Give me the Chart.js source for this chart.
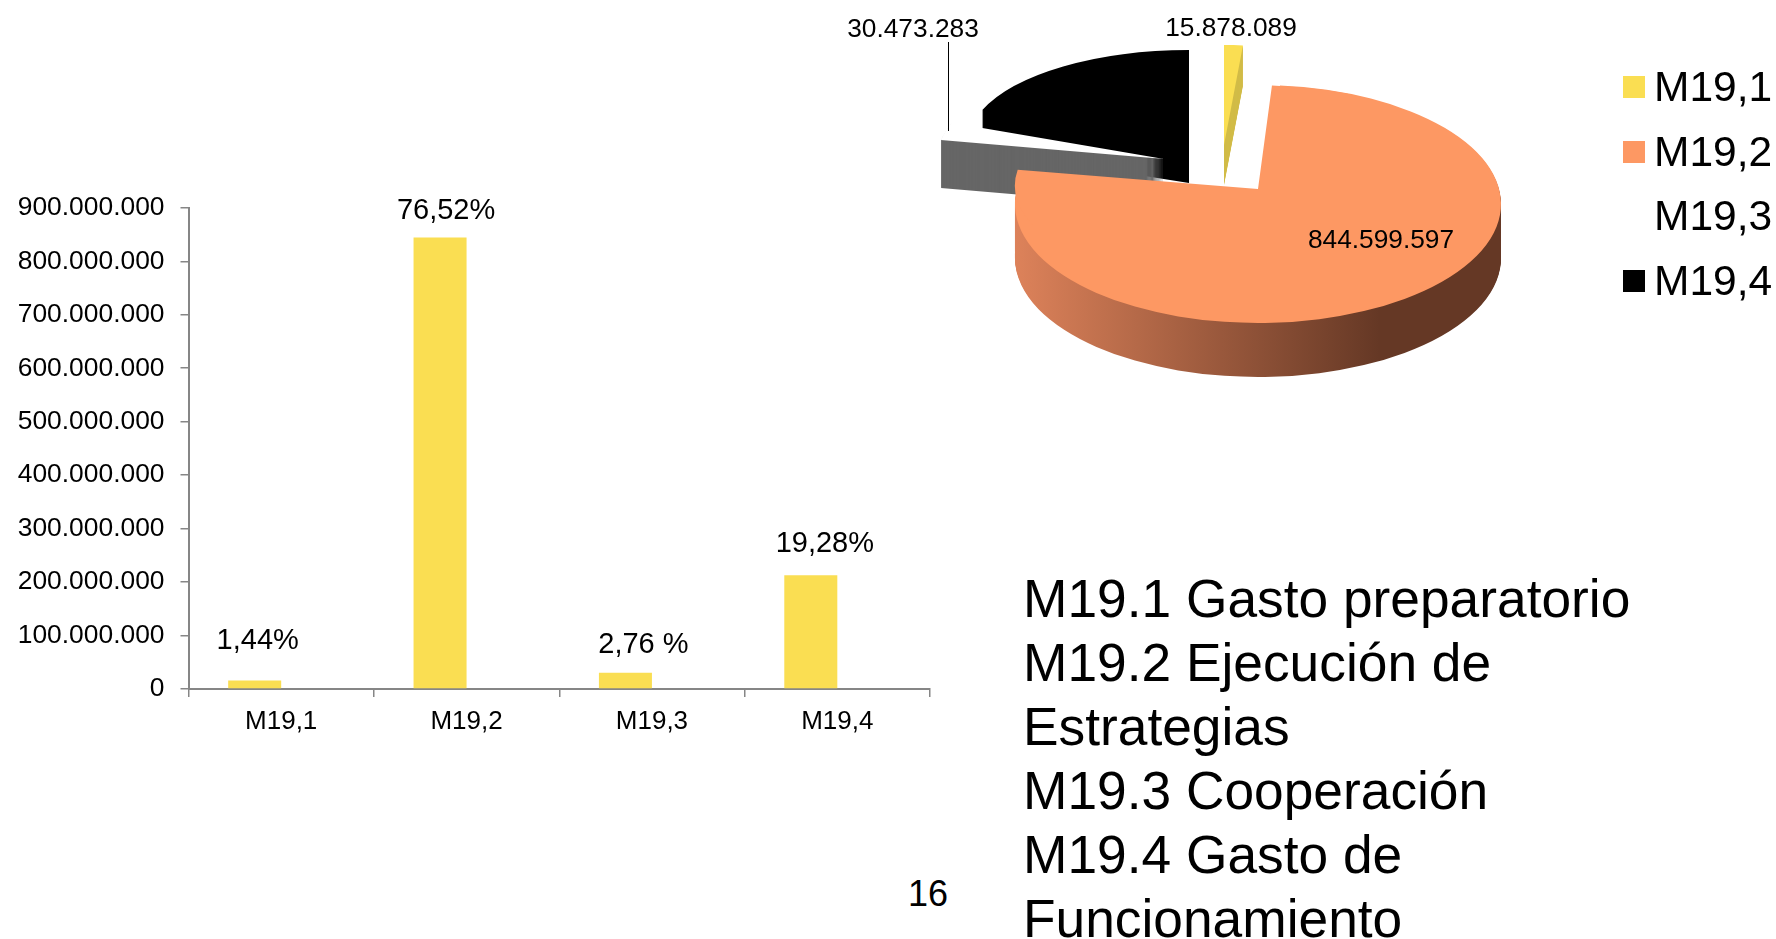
<!DOCTYPE html>
<html lang="es">
<head>
<meta charset="utf-8">
<title>M19</title>
<script src="https://cdn.jsdelivr.net/npm/chart.js@4"></script>
<style>
  html, body { margin: 0; background: #fff; overflow: hidden; }
  #stage { position: relative; width: 1776px; height: 939px; font-family: "Liberation Sans", Arial, sans-serif; color: #000; }
  #stage canvas { position: absolute; }
  #barChart { left: 0; top: 176px; }
  #pieChart { left: 780px; top: 0; }
  #legend { position: absolute; left: 1623px; top: 55px; }
  .legend-row { display: flex; align-items: center; height: 64.5px; font-size: 42.5px; white-space: nowrap; }
  .legend-box { width: 22px; height: 22px; margin-right: 9px; }
  #notes { position: absolute; left: 1023px; top: 567px; font-size: 53.3px; line-height: 64px; white-space: nowrap; }
  #pageNo { position: absolute; left: 908px; top: 873px; font-size: 36px; line-height: 42px; }
</style>
</head>
<body>
<div id="stage">
  <canvas id="barChart" width="960" height="574"></canvas>
  <canvas id="pieChart" width="996" height="420"></canvas>
  <div id="legend"></div>
  <div id="notes"></div>
  <div id="pageNo">16</div>
</div>
<script>
// ---------- DATA ----------
const categories = ["M19,1", "M19,2", "M19,3", "M19,4"];
const values = [15878089, 844599597, 30473283, 212800000];
const barLabels = ["1,44%", "76,52%", "2,76 %", "19,28%"];
const pieLabels = ["15.878.089", "844.599.597", "30.473.283", ""];
const yTickLabels = ["0", "100.000.000", "200.000.000", "300.000.000", "400.000.000", "500.000.000",
  "600.000.000", "700.000.000", "800.000.000", "900.000.000"];
const notes = ["M19.1 Gasto preparatorio", "M19.2 Ejecución de", "Estrategias", "M19.3 Cooperación",
  "M19.4 Gasto de", "Funcionamiento"];

// ---------- STYLE ----------
const YELLOW = "#FADE52";
const ORANGE = "#FD9863";
const sliceColors = [YELLOW, ORANGE, "#FFFFFF", "#000000"];
const AXIS_COLOR = "#868686";
const FONT = "'Liberation Sans', Arial, sans-serif";

// nudge of each percent label from the top centre of its bar
const barLabelNudge = [[3, -40], [6, -26], [18, -28], [14, -31]];

// fake 3D view of each slice (canvas px): apex, radii, extrusion
const sliceViews = [
  { cx: 444, cy: 145, rx: 210, ry: 100, depth: 40, side: "#D2BC48" },
  // orange outline is centred lower than its apex, the patch pulls the apex up
  { cx: 478, cy: 204, rx: 243, ry: 119, depth: 54, side: "gradient",
    patch: { cy: 189, ry: 104, skew: 0.077, maxX: 568, maxY: 225 } },
  { cx: 384, cy: 159, rx: 227, ry: 103, depth: 48, side: "#666666" },
  { cx: 409, cy: 143, rx: 221, ry: 93, depth: 40, side: "#000000" }
];
const pieLabelPos = [[451, 29], [601, 241], [133, 30]];

// ---------- HTML TEXT ----------
document.getElementById("legend").innerHTML = categories.map(function (c, i) {
  return '<div class="legend-row"><span class="legend-box" style="background:' + sliceColors[i] + '"></span>' + c + "</div>";
}).join("");
document.getElementById("notes").innerHTML = notes.join("<br>");

// ---------- BAR CHART ----------
const barLabelPlugin = {
  id: "barLabelPlugin",
  afterDraw: function (chart) {
    const ctx = chart.ctx;
    const bars = chart.getDatasetMeta(0).data;
    ctx.save();
    ctx.font = "29px " + FONT;
    ctx.fillStyle = "#000";
    ctx.textAlign = "center";
    ctx.textBaseline = "middle";
    bars.forEach(function (bar, i) {
      ctx.fillText(barLabels[i], bar.x + barLabelNudge[i][0], bar.y + barLabelNudge[i][1]);
    });
    ctx.restore();
  }
};

new Chart(document.getElementById("barChart"), {
  type: "bar",
  data: {
    labels: categories,
    datasets: [
      { data: values, backgroundColor: YELLOW },
      { data: [null, null, null, null], backgroundColor: ORANGE } // empty second series keeps bars off centre
    ]
  },
  options: {
    responsive: false,
    animation: false,
    layout: { padding: { top: 3, right: 30 } },
    categoryPercentage: 0.572,
    barPercentage: 1,
    plugins: { legend: { display: false }, tooltip: { enabled: false } },
    scales: {
      x: {
        afterFit: function (s) { s.height = 61; },
        grid: { drawOnChartArea: false, color: AXIS_COLOR, lineWidth: 1.5, tickLength: 8 },
        border: { color: AXIS_COLOR, width: 2 },
        ticks: { color: "#000", font: { family: FONT, size: 26 }, padding: 9, maxRotation: 0 }
      },
      y: {
        min: 0,
        max: 900000000,
        afterFit: function (s) { s.width = 188.5; },
        grid: { drawOnChartArea: false, color: AXIS_COLOR, lineWidth: 1.5, tickLength: 8 },
        border: { color: AXIS_COLOR, width: 2 },
        ticks: {
          stepSize: 100000000,
          color: "#000",
          font: { family: FONT, size: 26.4 },
          padding: 16,
          callback: function (v, i) { return yTickLabels[i]; }
        }
      }
    }
  },
  plugins: [barLabelPlugin]
});

// ---------- PIE CHART ----------
function paintSlice(chart, arc, view, shift) {
  const ctx = chart.ctx;
  const R = arc.outerRadius;
  ctx.save();
  ctx.translate(view.cx, view.cy + shift);
  ctx.scale(view.rx / R, view.ry / R);
  ctx.translate(-arc.x, -arc.y);
  arc.draw(ctx);
  ctx.restore();
}

function paintPatch(chart, arc, view) {
  const ctx = chart.ctx;
  const R = arc.outerRadius;
  const p = view.patch;
  ctx.save();
  ctx.beginPath();
  ctx.rect(0, 0, p.maxX, p.maxY);
  ctx.clip();
  ctx.translate(view.cx, p.cy);
  ctx.transform(1, 0, p.skew, 1, 0, 0);
  ctx.scale(view.rx / R, p.ry / R);
  ctx.translate(-arc.x, -arc.y);
  arc.draw(ctx);
  ctx.restore();
}

const pie3dPlugin = {
  id: "pie3dPlugin",
  beforeDatasetsDraw: function (chart) {
    const ctx = chart.ctx;
    const arcs = chart.getDatasetMeta(0).data;
    // back to front
    [3, 0, 2, 1].forEach(function (i) {
      const arc = arcs[i];
      const view = sliceViews[i];
      const top = arc.options;
      let fill = view.side;
      if (fill === "gradient") {
        fill = ctx.createLinearGradient(arc.x - arc.outerRadius, 0, arc.x + arc.outerRadius, 0);
        fill.addColorStop(0, "#DD825A");
        fill.addColorStop(0.75, "#653825");
        fill.addColorStop(1, "#653825");
      }
      arc.options = Object.assign(Object.create(top), { backgroundColor: fill });
      for (let d = view.depth; d >= 1; d--) {
        paintSlice(chart, arc, view, d);
      }
      arc.options = top;
      paintSlice(chart, arc, view, 0);
      if (view.patch) paintPatch(chart, arc, view);
    });
    return false;
  },
  afterDraw: function (chart) {
    const ctx = chart.ctx;
    ctx.save();
    // leader line of the M19,3 label
    ctx.strokeStyle = "#000";
    ctx.lineWidth = 1;
    ctx.beginPath();
    ctx.moveTo(168.5, 42);
    ctx.lineTo(168.5, 131);
    ctx.stroke();
    ctx.font = "26.3px " + FONT;
    ctx.fillStyle = "#000";
    ctx.textAlign = "center";
    ctx.textBaseline = "middle";
    pieLabelPos.forEach(function (p, i) {
      ctx.fillText(pieLabels[i], p[0], p[1]);
    });
    ctx.restore();
  }
};

new Chart(document.getElementById("pieChart"), {
  type: "pie",
  data: {
    labels: categories,
    datasets: [{ data: values, backgroundColor: sliceColors, borderWidth: 0 }]
  },
  options: {
    responsive: false,
    animation: false,
    plugins: { legend: { display: false }, tooltip: { enabled: false } }
  },
  plugins: [pie3dPlugin]
});
</script>
</body>
</html>
